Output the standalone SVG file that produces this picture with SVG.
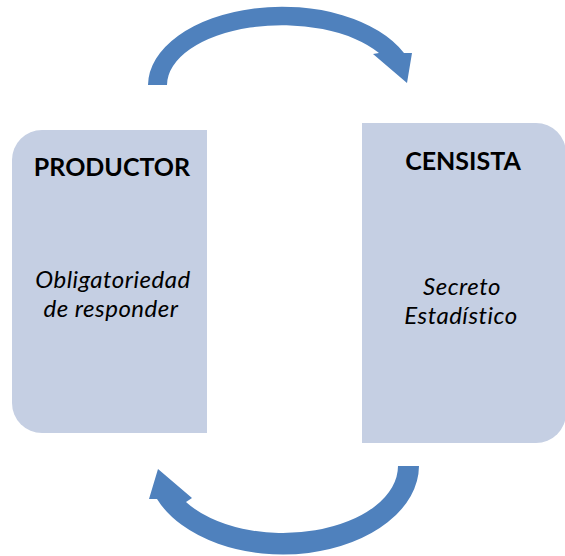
<svg xmlns="http://www.w3.org/2000/svg" width="565" height="556" viewBox="0 0 565 556">
<style>
.box{fill:#c5cfe3;}
.arrow{fill:#4f81bd;}
.title{font-family:Lato,"Open Sans","Liberation Sans",sans-serif;font-weight:bold;font-size:25px;fill:#000;text-anchor:middle;}
.body{font-family:Lato,"Open Sans","Liberation Sans",sans-serif;font-style:italic;font-size:24px;letter-spacing:0.5px;fill:#000;text-anchor:middle;}
</style>
<rect width="565" height="556" fill="#fff"/>
<g id="productor">
<path class="box" d="M42,130 L207,130 L207,433 L42,433 A30,30 0 0 1 12,403 L12,160 A30,30 0 0 1 42,130 Z"/>
<text class="title" x="112" y="176">PRODUCTOR</text>
<text class="body" x="113" y="288">Obligatoriedad</text>
<text class="body" x="111" y="317">de responder</text>
</g>
<g id="censista">
<path class="box" d="M362,123 L536,123 A30,30 0 0 1 566,153 L566,413 A30,30 0 0 1 536,443 L362,443 Z"/>
<text class="title" x="463" y="170">CENSISTA</text>
<text class="body" x="462" y="295">Secreto</text>
<text class="body" x="461" y="324">Estadístico</text>
</g>
<g id="connectors">
<path class="arrow" d="M148,85 A134,79 0 0 1 404,53 L412,53 L407,83 L373,54 L379,53 A115,60 0 0 0 167,85 Z"/>
<path class="arrow" d="M419,466 A136,89 0 0 1 157,499 L149,499 L158,469 L192,498 L186,502 A115,67 0 0 0 398,466 Z"/>
</g>
</svg>
